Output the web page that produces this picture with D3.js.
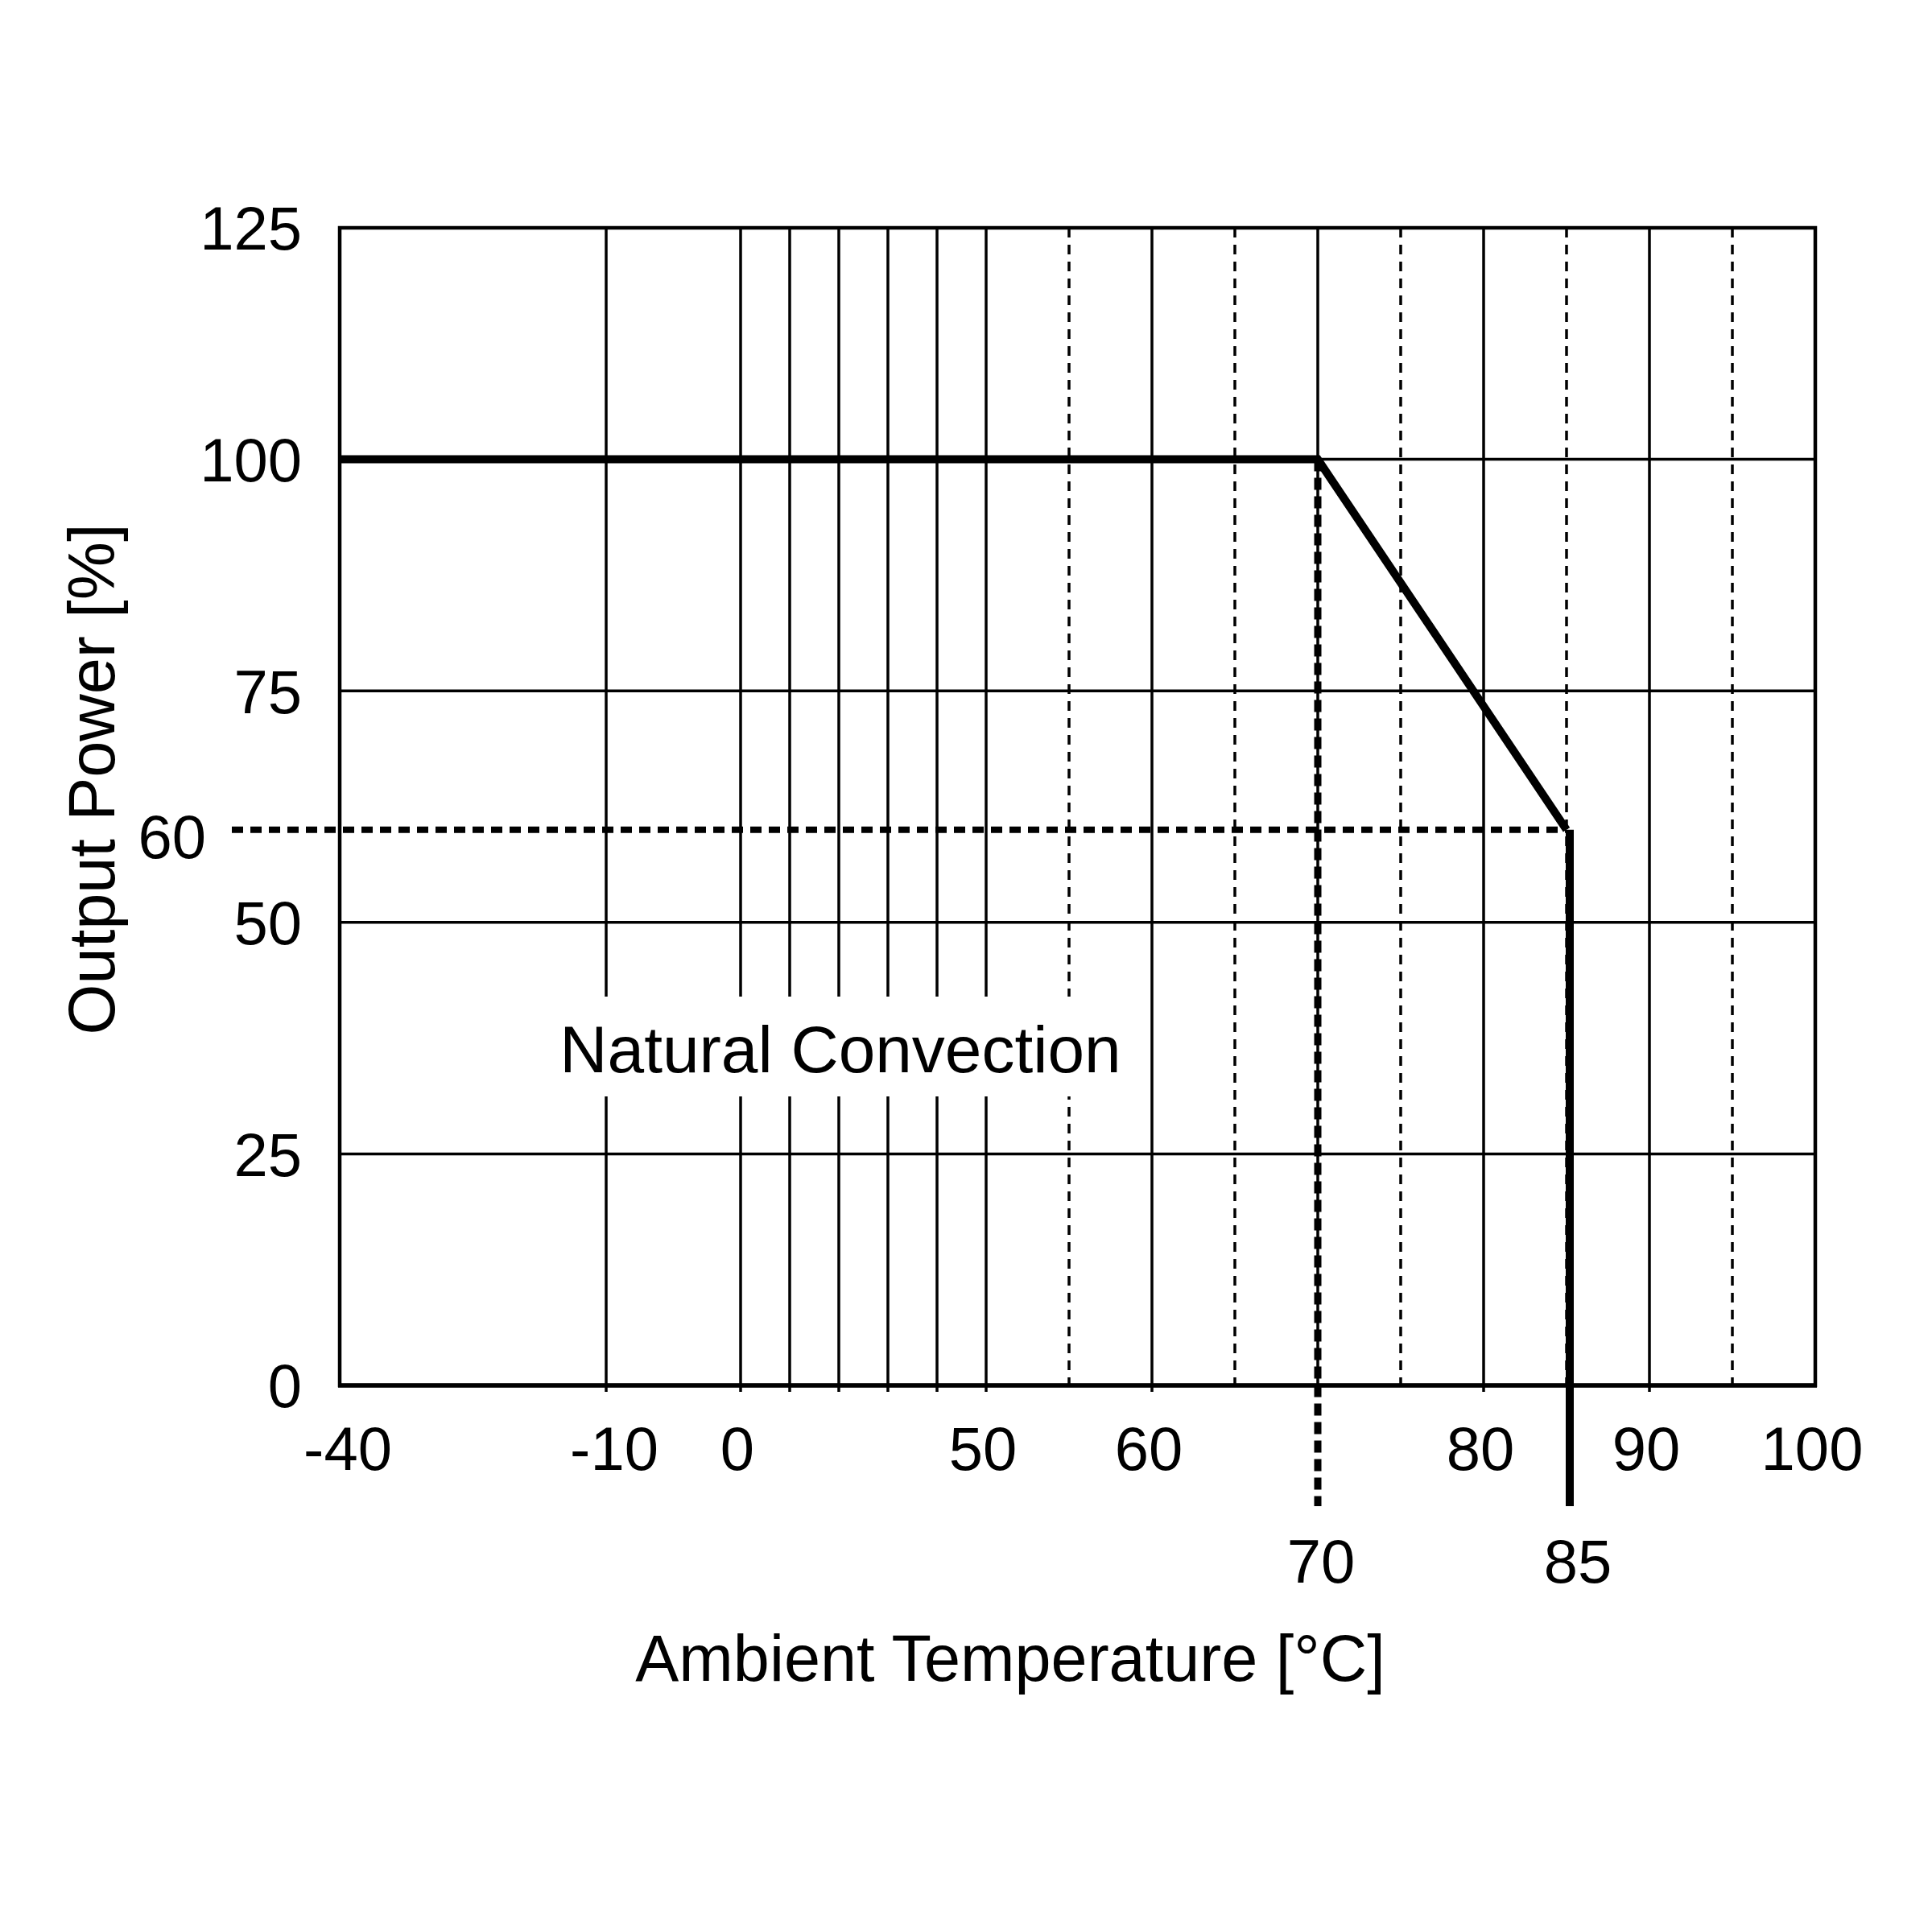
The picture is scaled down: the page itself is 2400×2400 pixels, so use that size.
<!DOCTYPE html>
<html>
<head>
<meta charset="utf-8">
<script src="https://cdn.jsdelivr.net/npm/d3@7"></script>
<style>
  body { margin: 0; background: white; }
  text { font-family: "Liberation Sans", Arial, sans-serif; fill: black; }
</style>
</head>
<body>
<div id="chart"></div>
<script>
"use strict";

// ---- data ----
let solidGridX = [-10, 0, 10, 20, 30, 40, 50, 60, 70, 80, 90];
let dashedGridX = [55, 65, 75, 85, 95];
let xTickLabels = [-40, -10, 0, 50, 60, 80, 90, 100];
let xMarkLabels = [70, 85];
let gridY = [25, 50, 75, 100];
let yTickLabels = [0, 25, 50, 75, 100, 125];
let yMarkLabels = [60];
let curveTemp = [-40, 70, 85];
let curvePower = [100, 100, 60];

let svgWidth = 2400;
let svgHeight = 2400;

let svg = d3.select("#chart")
    .append("svg")
    .attr("width", svgWidth)
    .attr("height", svgHeight);

svg.append("rect")
    .attr("width", svgWidth)
    .attr("height", svgHeight)
    .attr("fill", "white");

// x axis is piecewise linear in the original drawing
let xScale = d3.scaleLinear()
    .domain([-40, -10, 0, 50, 100])
    .range([422, 753, 920, 1225, 2255]);

let yScale = d3.scaleLinear()
    .domain([0, 125])
    .range([1721, 283]);

let plotLeft = xScale(-40), plotRight = xScale(100);
let plotTop = yScale(125), plotBottom = yScale(0);

/* ---- grid ---- */
let grid = svg.append("g");

grid.selectAll(".vsolid")
    .data(solidGridX)
    .enter().append("line")
    .attr("x1", d => xScale(d))
    .attr("x2", d => xScale(d))
    .attr("y1", plotTop)
    .attr("y2", plotBottom + 8)
    .attr("stroke", "black")
    .attr("stroke-width", 3.5);

grid.selectAll(".vdash")
    .data(dashedGridX)
    .enter().append("line")
    .attr("x1", d => xScale(d))
    .attr("x2", d => xScale(d))
    .attr("y1", plotTop)
    .attr("y2", plotBottom + 8)
    .attr("stroke", "black")
    .attr("stroke-width", 3.5)
    .attr("stroke-dasharray", "12,9");

grid.selectAll(".hgrid")
    .data(gridY)
    .enter().append("line")
    .attr("x1", plotLeft)
    .attr("x2", plotRight)
    .attr("y1", d => yScale(d))
    .attr("y2", d => yScale(d))
    .attr("stroke", "black")
    .attr("stroke-width", 3.5);

/* ---- border ---- */
svg.append("rect")
    .attr("x", plotLeft)
    .attr("y", plotTop)
    .attr("width", plotRight - plotLeft)
    .attr("height", plotBottom - plotTop)
    .attr("fill", "none")
    .attr("stroke", "black")
    .attr("stroke-width", 4.5);

svg.append("line")
    .attr("x1", plotLeft - 2)
    .attr("x2", plotRight + 2)
    .attr("y1", plotBottom)
    .attr("y2", plotBottom)
    .attr("stroke", "black")
    .attr("stroke-width", 5.5);

/* ---- Natural Convection label ---- */
svg.append("rect")
    .attr("x", 696)
    .attr("y", 1238)
    .attr("width", 698)
    .attr("height", 124)
    .attr("fill", "white");

svg.append("text")
    .attr("x", 1044)
    .attr("y", 1332)
    .attr("text-anchor", "middle")
    .attr("font-size", "82px")
    .text("Natural Convection");

/* ---- marker lines ---- */
let dropY = plotBottom + 150;

// 60 % dashed line
svg.append("line")
    .attr("x1", 288)
    .attr("x2", xScale(85))
    .attr("y1", yScale(60))
    .attr("y2", yScale(60))
    .attr("stroke", "black")
    .attr("stroke-width", 8)
    .attr("stroke-dasharray", "14,9");

// 70 degC dashed drop
svg.append("line")
    .attr("x1", xScale(70))
    .attr("x2", xScale(70))
    .attr("y1", yScale(100))
    .attr("y2", dropY)
    .attr("stroke", "black")
    .attr("stroke-width", 9)
    .attr("stroke-dasharray", "15,8");

// 85 degC solid drop
svg.append("line")
    .attr("x1", xScale(85) + 4)
    .attr("x2", xScale(85) + 4)
    .attr("y1", yScale(60))
    .attr("y2", dropY)
    .attr("stroke", "black")
    .attr("stroke-width", 10);

/* ---- derating curve ---- */
let curveData = curveTemp.map((t, i) => ({ t: t, p: curvePower[i] }));

let line = d3.line()
    .x(d => xScale(d.t))
    .y(d => yScale(d.p));

svg.append("path")
    .datum(curveData)
    .attr("d", line)
    .attr("fill", "none")
    .attr("stroke", "black")
    .attr("stroke-width", 10)
    .attr("stroke-linejoin", "miter");

/* ---- tick labels ---- */
svg.selectAll(".xlab")
    .data(xTickLabels)
    .enter().append("text")
    .attr("x", d => xScale(d) + (d < 0 ? 10 : -4))
    .attr("y", 1826)
    .attr("text-anchor", "middle")
    .attr("font-size", "76px")
    .text(d => d);

svg.selectAll(".xmark")
    .data(xMarkLabels)
    .enter().append("text")
    .attr("x", d => xScale(d) + (d === 85 ? 14 : 4))
    .attr("y", 1966)
    .attr("text-anchor", "middle")
    .attr("font-size", "76px")
    .text(d => d);

svg.selectAll(".ylab")
    .data(yTickLabels)
    .enter().append("text")
    .attr("x", 375)
    .attr("y", d => yScale(d))
    .attr("dy", "0.36em")
    .attr("text-anchor", "end")
    .attr("font-size", "76px")
    .text(d => d);

svg.selectAll(".ymark")
    .data(yMarkLabels)
    .enter().append("text")
    .attr("x", 256)
    .attr("y", d => yScale(d) + 8)
    .attr("dy", "0.36em")
    .attr("text-anchor", "end")
    .attr("font-size", "76px")
    .text(d => d);

/* ---- axis titles ---- */
svg.append("text")
    .attr("x", 1255)
    .attr("y", 2088)
    .attr("text-anchor", "middle")
    .attr("font-size", "81px")
    .text("Ambient Temperature [°C]");

svg.append("text")
    .attr("transform", "translate(142,968) rotate(-90)")
    .attr("text-anchor", "middle")
    .attr("font-size", "81px")
    .text("Output Power [%]");
</script>
</body>
</html>
